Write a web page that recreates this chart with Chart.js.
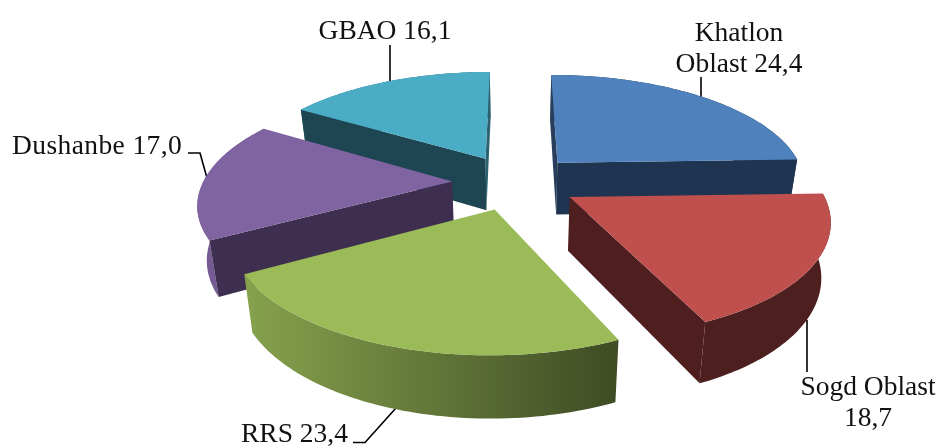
<!DOCTYPE html>
<html>
<head>
<meta charset="utf-8">
<style>
  html, body { margin: 0; background: #fff; }
  canvas { display: block; }
</style>
<script src="https://cdn.jsdelivr.net/npm/chart.js@4"></script>
</head>
<body>
<canvas id="pie-chart-regions" width="940" height="446"></canvas>
<script>
const categories = ['Khatlon Oblast', 'Sogd Oblast', 'RRS', 'Dushanbe', 'GBAO'];
const shares = [24.4, 18.7, 23.4, 17.0, 16.1];
const topColors = ['#4F81BD', '#C0504D', '#9BBB59', '#8064A2', '#4BACC6'];
const wallColors = ['#1F3450', '#4E1F1E', '#3F4C21', '#3E2E50', '#1E4552'];
const lineBreaks = [1, 2, 0, 0, 0];

// Perspective of the pie plate, in pixels
const view = { cx: 515, cy: 182, scaleX: 249, scaleY: 109.4, tilt: 0.175, taper: 0.97, dropBase: 42, dropGrow: 0.06 };
const shade = { from: 200, to: 620, light: 0.92, dark: 0.4 };

const labelPlaces = [
    { x: 739, y: 41, align: 'center', leader: [[701, 77], [701, 97]] },
    { x: 868, y: 395, align: 'center', leader: [[807, 320], [807, 372]] },
    { x: 241, y: 442, align: 'left', leader: [[353, 442.5], [365, 442.5], [396, 408]] },
    { x: 12, y: 154, align: 'left', spacing: '0.4px', leader: [[188, 153], [200, 153], [207, 178]] },
    { x: 385, y: 39, align: 'center', leader: [[390, 45], [390, 82]] }
];

function project(u, v) {
    const d = 1 + view.tilt * v;
    return [view.cx + view.scaleX * u / d, view.cy - view.scaleY * v / d];
}

// Same point on the underside of the plate
function drop(p) {
    return [view.cx + (p[0] - view.cx) * view.taper, p[1] + view.dropBase + view.dropGrow * p[1]];
}

function fillPath(ctx, points, fill) {
    ctx.beginPath();
    points.forEach((p, i) => (i ? ctx.lineTo(p[0], p[1]) : ctx.moveTo(p[0], p[1])));
    ctx.closePath();
    ctx.fillStyle = fill;
    ctx.fill();
}

function scaleColor(hex, f) {
    const n = parseInt(hex.slice(1), 16);
    return `rgb(${(n >> 16) * f},${((n >> 8) & 255) * f},${(n & 255) * f})`;
}

class Pie3DArc extends Chart.ArcElement {
    static id = 'pie3dArc';

    midDepth() {
        return -Math.sin((this.startAngle + this.endAngle) / 2);
    }

    draw(ctx) {
        const mid = (this.startAngle + this.endAngle) / 2;
        const shift = this.options.offset / this.outerRadius;
        const ox = Math.cos(mid) * shift;
        const oy = -Math.sin(mid) * shift;
        const apex = project(ox, oy);
        const rim = [];
        const steps = 64;
        for (let i = 0; i <= steps; i++) {
            const a = this.startAngle + (this.endAngle - this.startAngle) * i / steps;
            rim.push(project(ox + Math.cos(a), oy - Math.sin(a)));
        }
        const lowRim = rim.map(drop);
        const top = this.options.backgroundColor;
        const wall = this.options.borderColor;

        const grad = ctx.createLinearGradient(shade.from, 0, shade.to, 0);
        grad.addColorStop(0, scaleColor(top, shade.light));
        grad.addColorStop(1, scaleColor(top, shade.dark));

        fillPath(ctx, rim.concat(lowRim.slice().reverse()), grad);

        // a cut face shows only when its top edge runs right to left on screen;
        // the ones running straight to the back catch the light
        const cutFill = (a) => (-Math.sin(a) > 0.9 ? grad : wall);
        const last = rim[rim.length - 1];
        if (rim[0][0] < apex[0]) {
            fillPath(ctx, [apex, rim[0], lowRim[0], drop(apex)], cutFill(this.startAngle));
        }
        if (apex[0] < last[0]) {
            fillPath(ctx, [apex, last, lowRim[steps], drop(apex)], cutFill(this.endAngle));
        }
        fillPath(ctx, [apex].concat(rim), top);
    }
}

class Pie3DController extends Chart.PieController {
    static id = 'pie3d';
    static defaults = { dataElementType: 'pie3dArc' };

    // back slices first so the nearer ones cover them
    draw() {
        const ctx = this.chart.ctx;
        const arcs = this.getMeta().data.slice().sort((a, b) => b.midDepth() - a.midDepth());
        arcs.forEach((arc) => arc.draw(ctx));
    }
}

Chart.register(Pie3DArc, Pie3DController);

const sliceLabels = {
    id: 'sliceLabels',
    beforeDatasetsDraw(chart) {
        const ctx = chart.ctx;
        ctx.save();
        ctx.strokeStyle = '#000';
        ctx.lineWidth = 1.6;
        ctx.fillStyle = '#111';
        ctx.font = '27.5px "Liberation Serif"';
        ctx.textBaseline = 'alphabetic';
        categories.forEach((name, i) => {
            const place = labelPlaces[i];
            ctx.beginPath();
            place.leader.forEach((p, j) => (j ? ctx.lineTo(p[0], p[1]) : ctx.moveTo(p[0], p[1])));
            ctx.stroke();

            const words = `${name} ${shares[i].toFixed(1).replace('.', ',')}`.split(' ');
            const lines = lineBreaks[i]
                ? [words.slice(0, lineBreaks[i]).join(' '), words.slice(lineBreaks[i]).join(' ')]
                : [words.join(' ')];
            ctx.textAlign = place.align;
            ctx.letterSpacing = place.spacing || '0px';
            lines.forEach((line, j) => ctx.fillText(line, place.x, place.y + j * 31));
        });
        ctx.restore();
    }
};

new Chart(document.getElementById('pie-chart-regions').getContext('2d'), {
    type: 'pie3d',
    data: {
        labels: categories,
        datasets: [{
            data: shares,
            backgroundColor: topColors,
            borderColor: wallColors,
            borderWidth: 0,
            offset: 50
        }]
    },
    options: {
        responsive: false,
        animation: false,
        plugins: { legend: { display: false }, tooltip: { enabled: false } }
    },
    plugins: [sliceLabels]
});
</script>
</body>
</html>
